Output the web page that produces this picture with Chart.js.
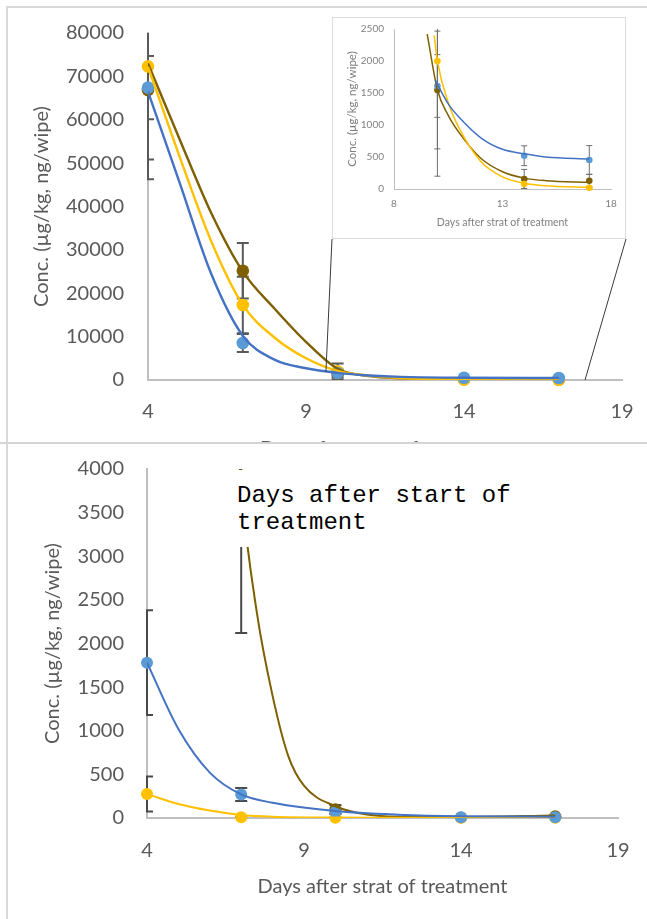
<!DOCTYPE html>
<html>
<head>
<meta charset="utf-8">
<script src="https://cdn.jsdelivr.net/npm/chart.js@4/dist/chart.umd.min.js"></script>
<style>
  body { margin: 0; background: #fff; }
  #page { position: relative; width: 647px; height: 919px; overflow: hidden; background: #fff; }
  #topFrame { position: absolute; left: 6px; top: 6px; width: 641px; height: 440px; border-left: 2px solid #d9d9d9; border-top: 2px solid #d9d9d9; }
  #topChart { position: absolute; left: 0; top: 0; z-index: 1; }
  #insetBox { position: absolute; left: 332px; top: 17px; width: 294px; height: 222px; box-sizing: border-box;
              border: 1px solid #dcdcdc; background: #fff; z-index: 2; }
  #insetChart { display: block; }
  #bottomPanel { position: absolute; left: 0; top: 442px; width: 647px; height: 477px; background: #fff;
                 border-top: 2px solid #d4d4d4; box-sizing: border-box; z-index: 3; }
  #bottomFrame { position: absolute; left: 6px; top: 0; height: 477px; border-left: 2px solid #d9d9d9; }
  #bottomChart { position: absolute; left: 0; top: 443px; z-index: 4; }
  #note { position: absolute; left: 234px; top: 470px; width: 300px; height: 77px; box-sizing: border-box;
          padding: 12px 0 0 3px; background: #fff; z-index: 5;
          font-family: "Liberation Mono", monospace; font-size: 24px; line-height: 27px; color: #000; }
</style>
</head>
<body>
<div id="page">
  <div id="topFrame"></div>
  <canvas id="topChart" width="647" height="480"></canvas>
  <div id="insetBox"><canvas id="insetChart" width="292" height="220"></canvas></div>
  <div id="bottomPanel"><div id="bottomFrame"></div></div>
  <canvas id="bottomChart" width="647" height="476"></canvas>
  <div id="note">Days after start of<br>treatment</div>
</div>
<script>
// sampling days
const days = [4, 7, 10, 14, 17];

// upper panel (also shown in the inset)
const blueTop = [67400, 8530, 1610, 520, 453];
const yellowTop = [72300, 17300, 2000, 78, 20];
const brownTop = [66860, 25200, 1547, 156, 130];
const blueTopErr = [7300, 2100, 490, 155, 225];
const yellowTopErr = [26000, 6500, 1800, 70, 15];
const brownTopErr = [16000, 6400, 920, 150, 100];

// trend curves of the upper panel
const trendDaysTop = [4, 5, 6, 7, 8, 9, 10, 11, 12, 14, 17];
const blueTrendTop = [66500, 45500, 24500, 10200, 4700, 2700, 1650, 1050, 720, 530, 460];
const yellowTrendTop = [72200, 51500, 32000, 17300, 9800, 5000, 2100, 1000, 450, 100, 30];
const brownTrendTop = [73000, 55500, 38500, 25000, 16500, 8800, 2600, 900, 400, 170, 110];

// trend curves of the inset
const blueTrendInsetDays = [9.9, 10.5, 11, 12, 13, 14, 15, 17];
const blueTrendInset = [1700, 1330, 1120, 800, 620, 550, 500, 468];
const yellowTrendInsetDays = [9.85, 10, 10.5, 11, 12, 13, 14, 15, 17];
const yellowTrendInset = [2400, 2000, 1350, 950, 430, 190, 90, 50, 28];
const brownTrendInsetDays = [9.53, 10, 10.5, 11, 12, 13, 14, 15, 17];
const brownTrendInset = [2420, 1550, 1150, 880, 480, 270, 170, 130, 105];

// lower panel
const blueBottom = [1780, 270, 70, 8, 8];
const yellowBottom = [275, 8, 4, 3, 3];
const brownBottom = [null, 4900, 100, 5, 20];
const blueBottomErr = [600, 75, 20, 5, 5];
const yellowBottomErr = [200, 5, 3, 2, 2];
const brownBottomErr = [null, 2780, 50, 5, 10];

const trendDaysBottom = [4, 5, 6, 7, 8, 10, 12, 14, 17];
const blueTrendBottom = [1780, 1020, 520, 270, 175, 80, 38, 20, 15];
const yellowTrendBottom = [275, 160, 85, 35, 15, 5, 3, 2, 2];
const brownTrendBottomDays = [6.8, 7, 7.5, 8, 8.5, 9, 10, 11, 12, 14, 17];
const brownTrendBottom = [4900, 3800, 2350, 1400, 710, 370, 135, 40, 15, 12, 30];

// zoomed region marked on the upper panel (day, value) for the connector lines
const zoomCorners = [[9.63, 1840], [17.83, 0]];

const BLUE_PT = '#5b9bd5', BLUE_LN = '#4472c4';
const YELLOW = '#ffc000';
const BROWN = '#7f6000';
const GREY_TXT = '#595959';

const pts = (xs, ys) => xs.map((x, i) => ({ x: x, y: ys[i] }));

const errorBars = {
  id: 'errorBars',
  beforeDatasetsDraw(chart, args, opts) {
    const { ctx, chartArea: a, scales: { x, y } } = chart;
    ctx.save();
    ctx.beginPath();
    ctx.rect(a.left - 1, a.top, a.right - a.left + 1, a.bottom - a.top);
    ctx.clip();
    ctx.strokeStyle = opts.color;
    ctx.lineWidth = opts.width;
    chart.data.datasets.forEach(ds => {
      if (!ds.errors) return;
      ds.data.forEach((p, i) => {
        const e = ds.errors[i];
        if (p.y == null || e == null) return;
        const px = x.getPixelForValue(p.x);
        const hi = y.getPixelForValue(p.y + e);
        const lo = y.getPixelForValue(p.y - e);
        ctx.beginPath();
        ctx.moveTo(px, hi); ctx.lineTo(px, lo);
        ctx.moveTo(px - opts.cap, hi); ctx.lineTo(px + opts.cap, hi);
        ctx.moveTo(px - opts.cap, lo); ctx.lineTo(px + opts.cap, lo);
        ctx.stroke();
      });
    });
    ctx.restore();
  }
};

// lines from the inset corners down to the zoomed region
const connectors = {
  id: 'connectors',
  afterDraw(chart) {
    const { ctx, scales: { x, y } } = chart;
    const box = document.getElementById('insetBox');
    const tops = [[box.offsetLeft, box.offsetTop + box.offsetHeight],
                  [box.offsetLeft + box.offsetWidth, box.offsetTop + box.offsetHeight]];
    ctx.save();
    ctx.strokeStyle = '#3a3a3a';
    ctx.lineWidth = 1;
    zoomCorners.forEach((c, i) => {
      ctx.beginPath();
      ctx.moveTo(tops[i][0], tops[i][1]);
      ctx.lineTo(x.getPixelForValue(c[0]), y.getPixelForValue(c[1]));
      ctx.stroke();
    });
    ctx.restore();
  }
};

function pointSet(data, color, errors, r, order) {
  return { data: data, backgroundColor: color, borderWidth: 0, pointRadius: r, pointHoverRadius: r,
           showLine: false, errors: errors, order: order, clip: false };
}
function trendSet(data, color, w, order) {
  return { data: data, borderColor: color, borderWidth: w, pointRadius: 0, showLine: true,
           cubicInterpolationMode: 'monotone', fill: false, order: order };
}

function axes(o) {
  const tickFont = { family: 'Lato', size: o.font };
  return {
    x: {
      type: 'linear', min: o.xMin, max: o.xMax,
      afterFit: s => { s.height = o.xHeight; s.paddingLeft = 0; s.paddingRight = 0; },
      grid: { display: false, drawTicks: false },
      border: { display: true, color: '#bfbfbf', width: o.axisW },
      ticks: { stepSize: 5, padding: o.xPad, color: o.color, font: tickFont, callback: v => String(v) },
      title: { display: true, text: 'Days after strat of treatment', color: o.color,
               font: { family: 'Lato', size: o.xTitleSize }, padding: { top: 0, bottom: o.xTitlePad } }
    },
    y: {
      min: 0, max: o.yMax,
      afterFit: s => { s.width = o.yWidth; s.paddingTop = 0; s.paddingBottom = 0; },
      grid: { display: false, drawTicks: false },
      border: { display: true, color: '#bfbfbf', width: o.axisW },
      ticks: { stepSize: o.yStep, padding: o.yPad, color: o.color, font: tickFont, callback: v => String(v) },
      title: { display: true, text: 'Conc. (µg/kg, ng/wipe)', color: o.color,
               font: { family: 'Lato', size: o.yTitleSize }, padding: { top: o.yTitlePad, bottom: 0 } }
    }
  };
}

const common = { responsive: false, animation: false, events: [] };

// upper panel
new Chart(document.getElementById('topChart'), {
  type: 'scatter',
  data: {
    datasets: [
      trendSet(pts(trendDaysTop, blueTrendTop), BLUE_LN, 2.4, 0),
      trendSet(pts(trendDaysTop, yellowTrendTop), YELLOW, 2.4, 1),
      trendSet(pts(trendDaysTop, brownTrendTop), BROWN, 2.4, 2),
      pointSet(pts(days, blueTop), BLUE_PT, blueTopErr, 6.3, 3),
      pointSet(pts(days, yellowTop), YELLOW, yellowTopErr, 6.3, 4),
      pointSet(pts(days, brownTop), BROWN, brownTopErr, 6.3, 5)
    ]
  },
  options: Object.assign({}, common, {
    layout: { padding: { left: 0, top: 33, right: 25, bottom: 0 } },
    plugins: { legend: { display: false }, tooltip: { enabled: false },
               errorBars: { color: '#595959', width: 2, cap: 6 } },
    scales: axes({ xMin: 4, xMax: 19, yMax: 80000, yStep: 10000, font: 20, color: GREY_TXT,
                   xHeight: 100, xPad: 20, xTitleSize: 20, xTitlePad: 19, yWidth: 148, yPad: 24,
                   yTitleSize: 20, yTitlePad: 30, axisW: 2 })
  }),
  plugins: [errorBars, connectors]
});

// inset
new Chart(document.getElementById('insetChart'), {
  type: 'scatter',
  data: {
    datasets: [
      trendSet(pts(blueTrendInsetDays, blueTrendInset), BLUE_LN, 1.5, 0),
      trendSet(pts(yellowTrendInsetDays, yellowTrendInset), YELLOW, 1.5, 1),
      trendSet(pts(brownTrendInsetDays, brownTrendInset), BROWN, 1.5, 2),
      pointSet(pts(days, blueTop), BLUE_PT, blueTopErr, 3.3, 3),
      pointSet(pts(days, yellowTop), YELLOW, yellowTopErr, 3.3, 4),
      pointSet(pts(days, brownTop), BROWN, brownTopErr, 3.3, 5)
    ]
  },
  options: Object.assign({}, common, {
    layout: { padding: { left: 0, top: 11, right: 14, bottom: 0 } },
    plugins: { legend: { display: false }, tooltip: { enabled: false },
               errorBars: { color: '#6e6e6e', width: 1, cap: 3 } },
    scales: axes({ xMin: 8, xMax: 18, yMax: 2500, yStep: 500, font: 10, color: '#7f7f7f',
                   xHeight: 49, xPad: 9, xTitleSize: 10.5, xTitlePad: 9, yWidth: 61, yPad: 10,
                   yTitleSize: 11.5, yTitlePad: 12, axisW: 1 })
  }),
  plugins: [errorBars]
});

// lower panel
new Chart(document.getElementById('bottomChart'), {
  type: 'scatter',
  data: {
    datasets: [
      trendSet(pts(trendDaysBottom, blueTrendBottom), BLUE_LN, 2, 0),
      trendSet(pts(trendDaysBottom, yellowTrendBottom), YELLOW, 2, 1),
      trendSet(pts(brownTrendBottomDays, brownTrendBottom), BROWN, 2, 2),
      pointSet(pts(days, blueBottom), BLUE_PT, blueBottomErr, 6, 3),
      pointSet(pts(days, yellowBottom), YELLOW, yellowBottomErr, 6, 4),
      pointSet(pts(days, brownBottom), BROWN, brownBottomErr, 6, 5)
    ]
  },
  options: Object.assign({}, common, {
    layout: { padding: { left: 0, top: 26, right: 29, bottom: 0 } },
    plugins: { legend: { display: false }, tooltip: { enabled: false },
               errorBars: { color: '#4a4a4a', width: 2, cap: 6 } },
    scales: axes({ xMin: 4, xMax: 19, yMax: 4000, yStep: 500, font: 20, color: GREY_TXT,
                   xHeight: 101, xPad: 21, xTitleSize: 20, xTitlePad: 20, yWidth: 147, yPad: 23,
                   yTitleSize: 20, yTitlePad: 41, axisW: 2 })
  }),
  plugins: [errorBars]
});
</script>
</body>
</html>
